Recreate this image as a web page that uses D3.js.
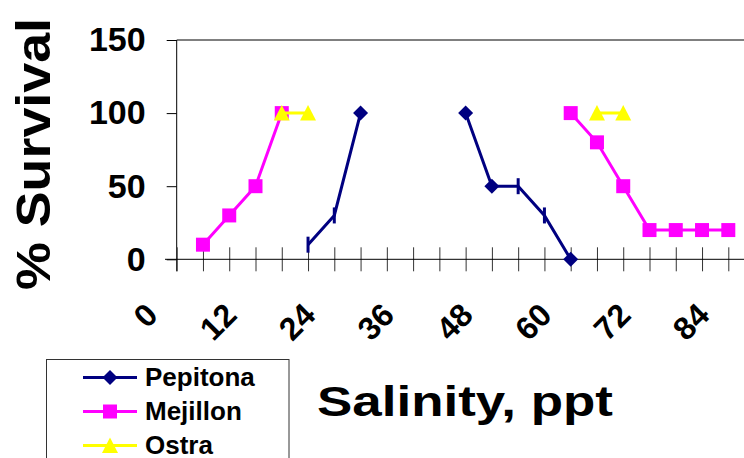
<!DOCTYPE html>
<html>
<head>
<meta charset="utf-8">
<script src="https://cdn.jsdelivr.net/npm/d3@7"></script>
<style>
  body { margin: 0; background: #fff; }
  svg { display: block; font-family: "Liberation Sans", Arial, sans-serif; font-weight: bold; }
</style>
</head>
<body>
<svg id="chart" width="744" height="458"></svg>
<script>
// salinity categories (ppt) and % survival per species, null = not tested
const salinity = [0, 4, 8, 12, 16, 20, 24, 28, 32, 36, 40, 44, 48, 52, 56, 60, 64, 68, 72, 76, 80, 84];
const pepitona = [null, null, null, null, null, 10, 30, 100, null, null, null, 100, 50, 50, 30, 0, null, null, null, null, null, null];
const mejillon = [null, 10, 30, 50, 100, null, null, null, null, null, null, null, null, null, null, 100, 80, 50, 20, 20, 20, 20];
const ostra = [null, null, null, null, 100, 100, null, null, null, null, null, null, null, null, null, null, 100, 100, null, null, null, null];
// pepitona points drawn with a dash instead of a diamond
const pepitonaDash = [20, 24, 52, 56];
const xTickLabels = [0, 12, 24, 36, 48, 60, 72, 84];
const yTicks = [0, 50, 100, 150];

const svg = d3.select("#chart");

const x = d3.scaleLinear().domain([0, 84]).range([176.7, 728.3]);
const y = d3.scaleLinear().domain([0, 150]).range([259.3, 40]);

const shapes = {
  diamond: "M0,-7.5L7.5,0L0,7.5L-7.5,0Z",
  square: "M-7,-7H7V7H-7Z",
  triangle: "M0,-8L8,7.5L-8,7.5Z",
};

// top border of plot area
svg.append("line")
  .attr("x1", x(0)).attr("x2", 744)
  .attr("y1", y(150)).attr("y2", y(150))
  .attr("stroke", "#000").attr("stroke-width", 1);

// y axis
const yAxis = svg.append("g")
  .attr("transform", `translate(${x(0)},0)`)
  .call(d3.axisLeft(y).tickValues(yTicks).tickSize(10).tickPadding(21));
yAxis.select(".domain").attr("d", `M0,${y(150)}V${y(0) + 12}`);
yAxis.selectAll("text")
  .attr("font-size", 34)
  .attr("font-family", "Liberation Sans, Arial, sans-serif")
  .attr("font-weight", "bold")
  .attr("fill", "#000");

// x axis with crossing ticks
const xAxis = svg.append("g")
  .attr("transform", `translate(0,${y(0)})`)
  .call(d3.axisBottom(x).tickValues(salinity).tickSize(12).tickFormat(""));
xAxis.select(".domain").remove();
xAxis.selectAll(".tick line").attr("y1", -12).attr("stroke", "#333");
xAxis.append("line")
  .attr("x1", 165).attr("x2", 744)
  .attr("stroke", "#000");

svg.append("g")
  .selectAll("text")
  .data(xTickLabels)
  .join("text")
  .attr("transform", (d) => `translate(${x(d) - 17},317) rotate(-45)`)
  .attr("text-anchor", "end")
  .attr("font-size", 32)
  .text((d) => d);

// series
const series = [
  { name: "Pepitona", values: pepitona, color: "#000080", shape: "diamond" },
  { name: "Mejillon", values: mejillon, color: "#FF00FF", shape: "square" },
  { name: "Ostra", values: ostra, color: "#FFFF00", shape: "triangle" },
];

const line = d3.line()
  .defined((d) => d.v !== null)
  .x((d) => x(d.s))
  .y((d) => y(d.v));

series.forEach((s) => {
  const pts = salinity.map((sal, i) => ({ s: sal, v: s.values[i] }));
  svg.append("path")
    .datum(pts)
    .attr("fill", "none")
    .attr("stroke", s.color)
    .attr("stroke-width", 3)
    .attr("d", line);

  const valid = pts.filter((d) => d.v !== null);
  const isDash = (d) => s.name === "Pepitona" && pepitonaDash.includes(d.s);

  svg.append("g")
    .selectAll("path")
    .data(valid.filter((d) => !isDash(d)))
    .join("path")
    .attr("transform", (d) => `translate(${x(d.s)},${y(d.v)})`)
    .attr("d", shapes[s.shape])
    .attr("fill", s.color);

  svg.append("g")
    .selectAll("line")
    .data(valid.filter(isDash))
    .join("line")
    .attr("x1", (d) => x(d.s)).attr("x2", (d) => x(d.s))
    .attr("y1", (d) => y(d.v) - 8).attr("y2", (d) => y(d.v) + 8)
    .attr("stroke", s.color)
    .attr("stroke-width", 3);
});

// axis titles
svg.append("text")
  .attr("transform", "translate(50,154) rotate(-90)")
  .attr("text-anchor", "middle")
  .attr("font-size", 49)
  .attr("textLength", 272)
  .attr("lengthAdjust", "spacingAndGlyphs")
  .text("% Survival");

svg.append("text")
  .attr("x", 317)
  .attr("y", 416)
  .attr("font-size", 43)
  .attr("textLength", 296)
  .attr("lengthAdjust", "spacingAndGlyphs")
  .text("Salinity, ppt");

// legend
const legend = svg.append("g");
legend.append("rect")
  .attr("x", 46.5).attr("y", 359.5)
  .attr("width", 242.5).attr("height", 110)
  .attr("fill", "#fff").attr("stroke", "#333");

const legendY = [377.5, 411.5, 445.5];
series.forEach((s, i) => {
  const g = legend.append("g").attr("transform", `translate(0,${legendY[i]})`);
  g.append("line")
    .attr("x1", 83).attr("x2", 137)
    .attr("stroke", s.color).attr("stroke-width", 3);
  g.append("path")
    .attr("transform", "translate(110,0)")
    .attr("d", shapes[s.shape])
    .attr("fill", s.color);
  g.append("text")
    .attr("x", 145)
    .attr("y", 8.5)
    .attr("font-size", 26)
    .text(s.name);
});
</script>
</body>
</html>
